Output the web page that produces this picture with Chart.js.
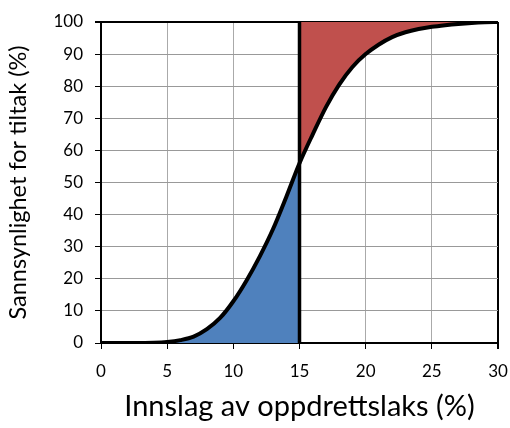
<!DOCTYPE html>
<html>
<head>
<meta charset="utf-8">
<script src="https://cdn.jsdelivr.net/npm/chart.js@4"></script>
<style>
  html, body { margin: 0; padding: 0; background: #fff; }
  #wrap { width: 510px; height: 428px; }
</style>
</head>
<body>
<div id="wrap"><canvas id="myChart" width="510" height="428"></canvas></div>
<script>
// innslag av oppdrettslaks (%)
const xValues = [0, 1, 2, 3, 4, 5, 6, 7, 8, 9, 10, 11, 12, 13, 14, 15,
  16, 17, 18, 19, 20, 21, 22, 23, 24, 25, 26, 27, 28, 29, 30];
// sannsynlighet for tiltak (%)
const probValues = [0, 0, 0, 0, 0.05, 0.3, 0.9, 2, 4.3, 7.8, 13, 19.5, 27, 35.5, 45.5, 56,
  65, 73.5, 80.5, 86, 90, 93, 95.3, 96.8, 97.8, 98.5, 99, 99.4, 99.7, 99.9, 100];
const threshold = 15;
const xTicks = [0, 5, 10, 15, 20, 25, 30];

const FONT = "Lato, 'Open Sans', sans-serif";

const curve = xValues.map((x, i) => ({ x: x, y: probValues[i] }));
const below = curve.filter(p => p.x <= threshold);
const above = curve.filter(p => p.x >= threshold);

const data = {
  datasets: [
    {
      label: "under",
      data: below,
      backgroundColor: "#4F81BD",
      borderWidth: 0,
      pointRadius: 0,
      fill: "origin",
      cubicInterpolationMode: "monotone",
      order: 3,
    },
    {
      label: "over",
      data: above,
      backgroundColor: "#C0504D",
      borderWidth: 0,
      pointRadius: 0,
      fill: "end",
      cubicInterpolationMode: "monotone",
      order: 3,
    },
    {
      label: "kurve",
      data: curve,
      borderColor: "#000",
      borderWidth: 4,
      pointRadius: 0,
      fill: false,
      cubicInterpolationMode: "monotone",
      order: 1,
    },
    {
      label: "grense",
      data: [{ x: threshold, y: 0 }, { x: threshold, y: 100 }],
      borderColor: "#000",
      borderWidth: 3.5,
      pointRadius: 0,
      fill: false,
      order: 0,
    },
  ],
};

const config = {
  type: "line",
  data: data,
  options: {
    responsive: false,
    animation: false,
    layout: { padding: { top: 22, right: 12, left: 0, bottom: 0 } },
    plugins: {
      legend: { display: false },
      tooltip: { enabled: false },
    },
    scales: {
      x: {
        type: "linear",
        min: 0,
        max: 30,
        afterBuildTicks: (s) => { s.ticks = xTicks.map(v => ({ value: v })); },
        afterFit: (s) => { s.height = 85; s.paddingLeft = 0; s.paddingRight = 0; },
        border: { color: "#000", width: 2 },
        grid: {
          color: (c) => c.tick && c.tick.value === 30 ? "#000" : "#aaa",
          lineWidth: (c) => c.tick && c.tick.value === 30 ? 2 : 1,
          tickColor: "#000",
          tickLength: 6,
        },
        ticks: { color: "#000", font: { family: FONT, size: 17 }, padding: 12, maxRotation: 0 },
        title: {
          display: true,
          text: "Innslag av oppdrettslaks (%)",
          color: "#000",
          font: { family: FONT, size: 29 },
          padding: { top: 0 },
        },
      },
      y: {
        min: 0,
        max: 100,
        ticks: { stepSize: 10, color: "#000", font: { family: FONT, size: 17 }, padding: 12 },
        afterFit: (s) => { s.width = 101; s.paddingTop = 0; s.paddingBottom = 0; },
        border: { color: "#000", width: 2 },
        grid: {
          color: (c) => c.tick && c.tick.value === 100 ? "#000" : "#999",
          lineWidth: (c) => c.tick && c.tick.value === 100 ? 2 : 1,
          tickColor: "#000",
          tickLength: 6,
        },
        title: {
          display: true,
          text: "Sannsynlighet for tiltak (%)",
          color: "#000",
          font: { family: FONT, size: 23.5 },
          padding: { bottom: 0 },
        },
      },
    },
  },
};

const chart = new Chart(document.getElementById("myChart"), config);
</script>
</body>
</html>
